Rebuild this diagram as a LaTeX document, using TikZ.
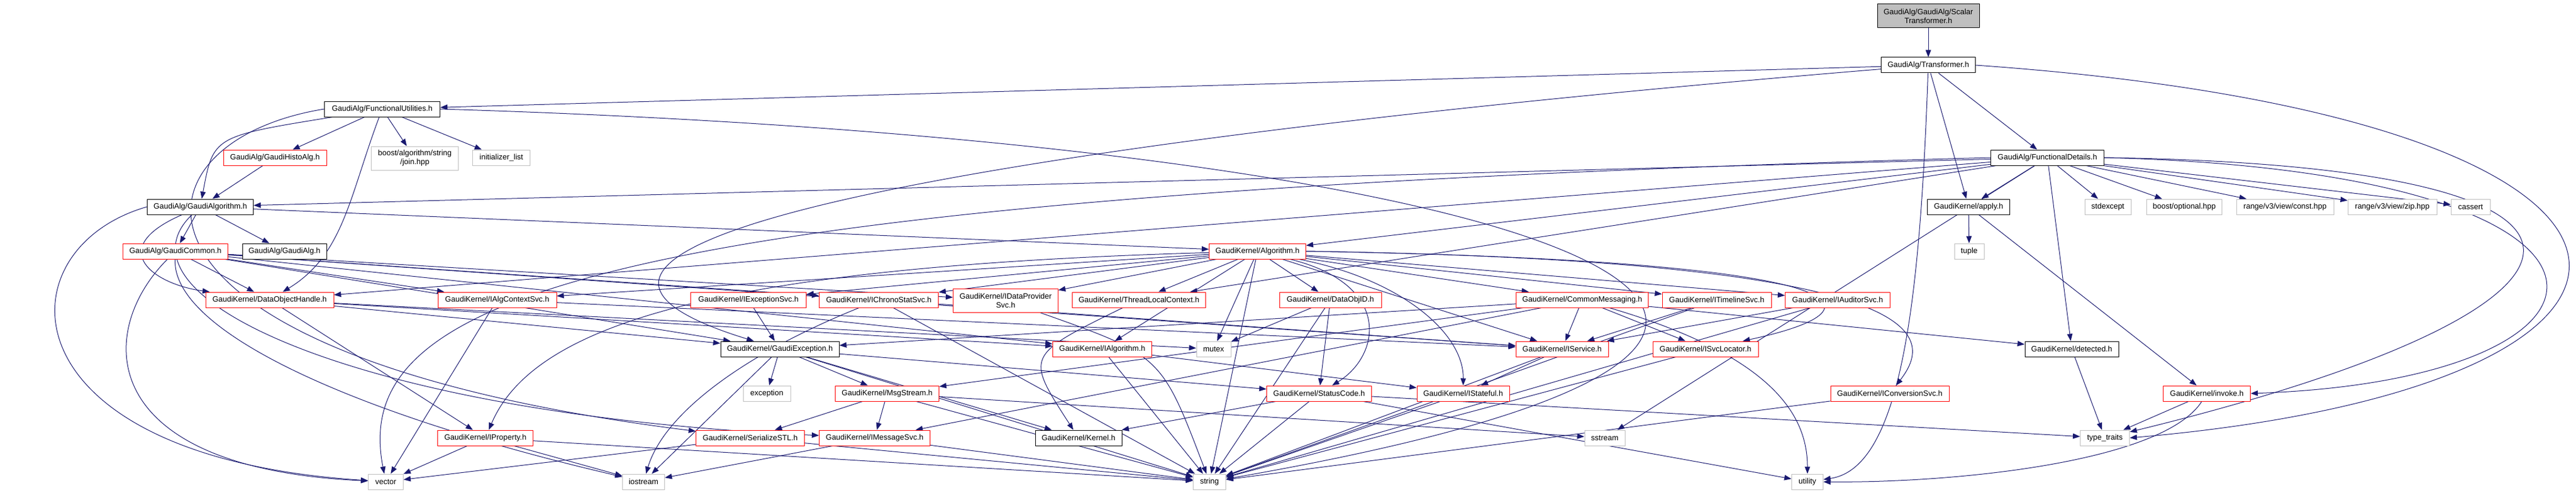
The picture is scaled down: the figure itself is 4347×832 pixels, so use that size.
\documentclass[tikz,border=0pt]{standalone}
\usepackage{fontspec}
\setmainfont{Liberation Sans}
\usetikzlibrary{arrows.meta,backgrounds}
\definecolor{edgec}{HTML}{191970}
\definecolor{grayb}{HTML}{BFBFBF}
\begin{document}
\begin{tikzpicture}[x=1pt,y=-1pt,
  box/.style={rectangle,inner sep=0pt,minimum height=26pt,line width=1pt,fill=white,
    font=\fontsize{13}{15}\selectfont,align=center},
  nb/.style={box,draw=black},
  nr/.style={box,draw=red},
  ng/.style={box,draw=grayb},
  ntop/.style={box,draw=black,fill=grayb},
  e/.style={draw=edgec,line width=1pt,-{Triangle[length=12pt,width=9pt]}}]
\useasboundingbox (0,0) rectangle (4347,832);
% row 0-1
\node[ntop,minimum width=172pt,minimum height=40pt] (st) at (3254,27) {GaudiAlg/GaudiAlg/Scalar\\Transformer.h};
\node[nb,minimum width=159pt] (tr) at (3254,110) {GaudiAlg/Transformer.h};
% row 2
\node[nb,minimum width=195pt] (fu) at (645,184) {GaudiAlg/FunctionalUtilities.h};
\node[nb,minimum width=191pt] (fd) at (3455,266) {GaudiAlg/FunctionalDetails.h};
\node[nr,minimum width=174pt] (gha) at (464,266) {GaudiAlg/GaudiHistoAlg.h};
\node[ng,minimum width=147pt,minimum height=40pt] (join) at (700,267) {boost/algorithm/string\\/join.hpp};
\node[ng,minimum width=97pt] (ilist) at (846,266) {initializer\_list};
% row 3
\node[nb,minimum width=179pt] (ga) at (338,349) {GaudiAlg/GaudiAlgorithm.h};
\node[nb,minimum width=139pt] (apply) at (3322,349) {GaudiKernel/apply.h};
\node[ng,minimum width=78pt] (stdexc) at (3557,349) {stdexcept};
\node[ng,minimum width=127pt] (bopt) at (3686,349) {boost/optional.hpp};
\node[ng,minimum width=164pt] (rconst) at (3856,349) {range/v3/view/const.hpp};
\node[ng,minimum width=150pt] (rzip) at (4037,349) {range/v3/view/zip.hpp};
\node[ng,minimum width=66pt] (cassert) at (4169,349) {cassert};
% row 4
\node[nr,minimum width=177pt] (gc) at (296,424) {GaudiAlg/GaudiCommon.h};
\node[nb,minimum width=142pt] (galg) at (480,424) {GaudiAlg/GaudiAlg.h};
\node[nr,minimum width=163pt] (alg) at (2122,424) {GaudiKernel/Algorithm.h};
\node[ng,minimum width=50pt] (tuple) at (3323,424) {tuple};
% row 5
\node[nr,minimum width=216pt] (doh) at (455,506) {GaudiKernel/DataObjectHandle.h};
\node[nr,minimum width=200pt] (iacs) at (839,506) {GaudiKernel/IAlgContextSvc.h};
\node[nr,minimum width=195pt] (iexc) at (1263,506) {GaudiKernel/IExceptionSvc.h};
\node[nr,minimum width=201pt] (ichr) at (1483,506) {GaudiKernel/IChronoStatSvc.h};
\node[nr,minimum width=177pt,minimum height=40pt] (idps) at (1697,507) {GaudiKernel/IDataProvider\\Svc.h};
\node[nr,minimum width=225pt] (tlc) at (1922,506) {GaudiKernel/ThreadLocalContext.h};
\node[nr,minimum width=172pt] (doid) at (2245,506) {GaudiKernel/DataObjID.h};
\node[nr,minimum width=223pt] (cmsg) at (2670,506) {GaudiKernel/CommonMessaging.h};
\node[nr,minimum width=184pt] (itl) at (2897,506) {GaudiKernel/ITimelineSvc.h};
\node[nr,minimum width=177pt] (iaud) at (3101,506) {GaudiKernel/IAuditorSvc.h};
% row 6
\node[nb,minimum width=200pt] (ge) at (1316,589) {GaudiKernel/GaudiException.h};
\node[nr,minimum width=167pt] (ialg) at (1860,589) {GaudiKernel/IAlgorithm.h};
\node[ng,minimum width=58pt] (mutex) at (2048,589) {mutex};
\node[nr,minimum width=156pt] (isvc) at (2636,589) {GaudiKernel/IService.h};
\node[nr,minimum width=178pt] (isl) at (2878,589) {GaudiKernel/ISvcLocator.h};
\node[nb,minimum width=158pt] (det) at (3496,589) {GaudiKernel/detected.h};
% row 7
\node[ng,minimum width=80pt] (exc) at (1294,664) {exception};
\node[nr,minimum width=175pt] (msg) at (1497,664) {GaudiKernel/MsgStream.h};
\node[nr,minimum width=177pt] (sc) at (2226,664) {GaudiKernel/StatusCode.h};
\node[nr,minimum width=156pt] (ist) at (2469,664) {GaudiKernel/IStateful.h};
\node[nr,minimum width=200pt] (iconv) at (3189,664) {GaudiKernel/IConversionSvc.h};
\node[nr,minimum width=147pt] (inv) at (3724,664) {GaudiKernel/invoke.h};
% row 8
\node[nr,minimum width=161pt] (iprop) at (819,739) {GaudiKernel/IProperty.h};
\node[nr,minimum width=183pt] (sstl) at (1266,739) {GaudiKernel/SerializeSTL.h};
\node[nr,minimum width=187pt] (imsg) at (1476,739) {GaudiKernel/IMessageSvc.h};
\node[nb,minimum width=146pt] (kern) at (1820,739) {GaudiKernel/Kernel.h};
\node[ng,minimum width=68pt] (sstream) at (2708,739) {sstream};
\node[ng,minimum width=83pt] (tt) at (3552,739) {type\_traits};
% row 9
\node[ng,minimum width=59pt] (vector) at (651,813) {vector};
\node[ng,minimum width=71pt] (iostream) at (1086,813) {iostream};
\node[ng,minimum width=55pt] (string) at (2041,813) {string};
\node[ng,minimum width=53pt] (utility) at (3050,813) {utility};

\begin{pgfonlayer}{background}
\fill[white] (0,0) rectangle (4347,832);
% ScalarTransformer / Transformer
\draw[e] (st) -- (tr);
\draw[e] (tr) -- (fu);
\draw[e] (tr) -- (fd);
\draw[e] (tr) -- (apply);
\draw[e] (tr) .. controls (3240,500) and (3210,790) .. (utility);
\draw[e] (tr.east) .. controls (4620,200) and (4620,650) .. (tt.east);
\draw[e] (tr) .. controls (1800,230) and (700,400) .. (ge);
% FunctionalUtilities
\draw[e] (fu) -- (gha);
\draw[e] (fu) -- (join);
\draw[e] (fu) -- (ilist);
\draw[e] (fu) .. controls (360,230) .. (ga);
\draw[e] (fu) .. controls (590,330) and (580,430) .. (doh);
\draw[e] (fu.west) .. controls (200,240) and (150,600) .. (sstl);
\draw[e] (fu.east) .. controls (2600,240) and (3500,560) .. (string);
% FunctionalDetails
\draw[e] (fd) -- (ga);
\draw[e] (fd) -- (doh);
\draw[e] (fd) -- (alg);
\draw[e] (fd) -- (tlc);
\draw[e] (fd.west) .. controls (1000,330) and (590,500) .. (vector);
\draw[e] (fd) -- (apply);
\draw[e] (fd) -- (stdexc);
\draw[e] (fd) -- (bopt);
\draw[e] (fd) -- (rconst);
\draw[e] (fd) -- (rzip);
\draw[e] (fd) -- (cassert);
\draw[e] (fd.east) .. controls (4520,280) and (4450,520) .. (tt);
\draw[e] (fd.east) .. controls (4520,290) and (4480,640) .. (inv.east);
\draw[e] (fd) -- (det);
\draw[e] (fd) -- (sstream);
% apply
\draw[e] (apply) -- (tuple);
\draw[e] (apply) -- (inv);
% GaudiAlgorithm, GaudiHistoAlg
\draw[e] (gha) -- (ga);
\draw[e] (ga) -- (gc);
\draw[e] (ga) -- (galg);
\draw[e] (ga) -- (alg);
\draw[e] (ga.west) .. controls (0,420) and (0,770) .. (vector);
\draw[e] (ga) .. controls (175,420) and (260,480) .. (doh);
\draw[e] (ga) .. controls (180,500) and (600,700) .. (imsg);
% GaudiCommon
\draw[e] (gc) -- (doh);
\draw[e] (gc) -- (iacs);
\draw[e] (gc) .. controls (160,560) and (160,790) .. (vector);
\draw[e] (gc) -- (ichr);
\draw[e] (gc) -- (idps);
\draw[e] (gc) -- (ge);
\draw[e] (gc) -- (ialg);
\draw[e] (gc) -- (isvc);
\draw[e] (gc) .. controls (290,560) and (600,700) .. (iostream);
% DataObjectHandle, IAlgContextSvc
\draw[e] (doh) -- (iprop);
\draw[e] (doh) -- (ge);
\draw[e] (doh) -- (ialg);
\draw[e] (doh) -- (mutex);
\draw[e] (iacs) -- (vector);
\draw[e] (iacs) -- (isvc);
% Algorithm
\draw[e] (alg) -- (iacs);
\draw[e] (alg) -- (iexc);
\draw[e] (alg) -- (ichr);
\draw[e] (alg) -- (idps);
\draw[e] (alg) -- (tlc);
\draw[e] (alg) -- (doid);
\draw[e] (alg) -- (cmsg);
\draw[e] (alg) -- (itl);
\draw[e] (alg) -- (iaud);
\draw[e] (alg) -- (isvc);
\draw[e] (alg.east) .. controls (3150,440) and (3200,520) .. (isl);
\draw[e] (alg.east) .. controls (3250,440) and (3270,560) .. (iconv);
\draw[e] (alg) .. controls (2360,470) and (2470,560) .. (ist);
\draw[e] (alg) .. controls (2350,480) and (2330,600) .. (sc);
\draw[e] (alg) -- (ialg);
\draw[e] (alg) -- (mutex);
\draw[e] (alg) -- (string);
\draw[e] (alg) .. controls (1200,450) and (900,550) .. (iprop);
% services
\draw[e] (iexc) -- (ge);
\draw[e] (ichr) -- (string);
\draw[e] (ichr) -- (isvc);
\draw[e] (ichr) .. controls (1250,600) and (1120,700) .. (iostream);
\draw[e] (idps) .. controls (1960,600) .. (string);
\draw[e] (tlc) .. controls (1730,600) .. (kern);
\draw[e] (doid) -- (mutex);
\draw[e] (doid) -- (sc);
\draw[e] (doid) -- (string);
\draw[e] (cmsg) -- (ge);
\draw[e] (cmsg) -- (msg);
\draw[e] (cmsg) -- (imsg);
\draw[e] (cmsg) -- (isvc);
\draw[e] (cmsg) -- (isl);
\draw[e] (cmsg) -- (det);
\draw[e] (cmsg) .. controls (2990,600) and (3050,700) .. (utility);
\draw[e] (itl) -- (isvc);
\draw[e] (itl) -- (string);
\draw[e] (iaud) -- (isvc);
\draw[e] (iaud) -- (string);
% GaudiException etc.
\draw[e] (ge) -- (exc);
\draw[e] (ge) -- (msg);
\draw[e] (ge) -- (sc);
\draw[e] (ge) -- (kern);
\draw[e] (ge) -- (string);
\draw[e] (ge) -- (iostream);
\draw[e] (ialg) -- (string);
\draw[e] (ialg) -- (ist);
\draw[e] (isvc) -- (ist);
\draw[e] (isvc) -- (string);
\draw[e] (isl) -- (string);
\draw[e] (msg) -- (sstl);
\draw[e] (msg) -- (imsg);
\draw[e] (msg) -- (string);
\draw[e] (msg) -- (sstream);
\draw[e] (sc) -- (kern);
\draw[e] (sc) -- (tt);
\draw[e] (sc) -- (utility);
\draw[e] (sc) -- (string);
\draw[e] (ist) -- (string);
\draw[e] (iconv) -- (string);
\draw[e] (det) -- (tt);
\draw[e] (inv) -- (tt);
\draw[e] (inv) .. controls (3650,780) and (3300,815) .. (utility);
\draw[e] (iprop) -- (vector);
\draw[e] (iprop) -- (iostream);
\draw[e] (iprop) -- (string);
\draw[e] (sstl) -- (vector);
\draw[e] (sstl) -- (string);
\draw[e] (imsg) -- (iostream);
\draw[e] (imsg) -- (string);
\end{pgfonlayer}
\end{tikzpicture}
\end{document}
